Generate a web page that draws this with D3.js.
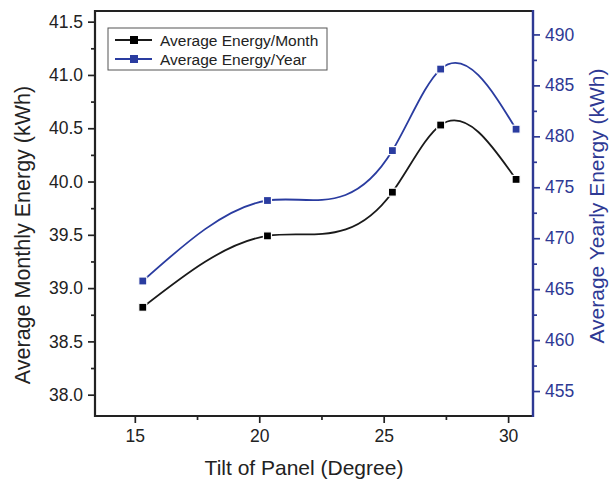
<!DOCTYPE html>
<html>
<head>
<meta charset="utf-8">
<script src="https://cdn.jsdelivr.net/npm/d3@7"></script>
<style>
  body { margin: 0; background: #fff; }
  text { font-family: Arial, "Liberation Sans", sans-serif; }
</style>
</head>
<body>
<div id="chart"></div>
<script>
// data
var tilt = [15.32, 20.33, 25.35, 27.29, 30.32];
var monthly = [38.82, 39.49, 39.90, 40.53, 40.02];
var yearly = [465.8, 473.7, 478.6, 486.6, 480.7];
var xTicks = [15, 20, 25, 30];
var leftTicks = [38.0, 38.5, 39.0, 39.5, 40.0, 40.5, 41.0, 41.5];
var rightTicks = [455, 460, 465, 470, 475, 480, 485, 490];
var seriesNames = ["Average Energy/Month", "Average Energy/Year"];

var W = 610, H = 482;
var margin = {top: 11, right: 77, bottom: 66, left: 95},
    width = W - margin.left - margin.right,
    height = H - margin.top - margin.bottom;

var blue = "#2a3ca0";
var axisBlue = "#2e3994";

// natural cubic spline y(x), drawn as bezier pieces (like Origin's spline connect)
function curveSplineX(context) {
  var pts;
  return {
    areaStart: function() {}, areaEnd: function() {},
    lineStart: function() { pts = []; },
    point: function(px, py) { pts.push([+px, +py]); },
    lineEnd: function() {
      var n = pts.length;
      if (!n) return;
      context.moveTo(pts[0][0], pts[0][1]);
      if (n < 3) { for (var k = 1; k < n; k++) context.lineTo(pts[k][0], pts[k][1]); return; }
      var h = [], a = [], b = [], c = [], r = [], M = new Array(n).fill(0);
      for (var i = 0; i < n - 1; i++) h[i] = pts[i + 1][0] - pts[i][0];
      // tridiagonal system for second derivatives M1..M(n-2)
      for (i = 1; i < n - 1; i++) {
        a[i] = h[i - 1]; b[i] = 2 * (h[i - 1] + h[i]); c[i] = h[i];
        r[i] = 6 * ((pts[i + 1][1] - pts[i][1]) / h[i] - (pts[i][1] - pts[i - 1][1]) / h[i - 1]);
      }
      for (i = 2; i < n - 1; i++) {
        var w = a[i] / b[i - 1];
        b[i] -= w * c[i - 1]; r[i] -= w * r[i - 1];
      }
      M[n - 2] = r[n - 2] / b[n - 2];
      for (i = n - 3; i >= 1; i--) M[i] = (r[i] - c[i] * M[i + 1]) / b[i];
      for (i = 0; i < n - 1; i++) {
        var x0 = pts[i][0], y0 = pts[i][1], x1 = pts[i + 1][0], y1 = pts[i + 1][1], hh = h[i];
        var s = (y1 - y0) / hh;
        var m0 = s - hh * (2 * M[i] + M[i + 1]) / 6;
        var m1 = s + hh * (M[i] + 2 * M[i + 1]) / 6;
        context.bezierCurveTo(x0 + hh / 3, y0 + m0 * hh / 3, x1 - hh / 3, y1 - m1 * hh / 3, x1, y1);
      }
    }
  };
}

var svg = d3.select("#chart").append("svg")
    .attr("width", W)
    .attr("height", H)
  .append("g")
    .attr("transform", "translate(" + margin.left + "," + margin.top + ")");

var x = d3.scaleLinear().domain([13.4, 31]).range([0, width]);
var yL = d3.scaleLinear().domain([37.8, 41.6]).range([height, 0]);
var yR = d3.scaleLinear().domain([452.55, 492.3]).range([height, 0]);

// minor ticks
var xMinor = [17.5, 22.5, 27.5];
var lMinor = d3.range(37.75, 41.6, 0.5).filter(function(d){ return d > 37.8; });
var rMinor = d3.range(452.5, 492.3, 5).filter(function(d){ return d > 452.6; });

function styleAxis(g, color) {
  g.select(".domain").remove();
  g.selectAll("line").attr("stroke", color).attr("stroke-width", 1.7);
  g.selectAll("text").attr("fill", color).style("font-size", "17.5px");
}

// bottom axis
svg.append("g")
  .attr("transform", "translate(0," + height + ")")
  .call(d3.axisBottom(x).tickValues(xTicks).tickSize(7).tickPadding(7).tickFormat(d3.format("d")))
  .call(styleAxis, "#222");
svg.append("g")
  .attr("transform", "translate(0," + height + ")")
  .call(d3.axisBottom(x).tickValues(xMinor).tickSize(4).tickFormat(""))
  .call(styleAxis, "#222");

// left axis
svg.append("g")
  .call(d3.axisLeft(yL).tickValues(leftTicks).tickSize(7).tickPadding(5).tickFormat(d3.format(".1f")))
  .call(styleAxis, "#222");
svg.append("g")
  .call(d3.axisLeft(yL).tickValues(lMinor).tickSize(4).tickFormat(""))
  .call(styleAxis, "#222");

// right axis
svg.append("g")
  .attr("transform", "translate(" + width + ",0)")
  .call(d3.axisRight(yR).tickValues(rightTicks).tickSize(7).tickPadding(5).tickFormat(d3.format("d")))
  .call(styleAxis, axisBlue);
svg.append("g")
  .attr("transform", "translate(" + width + ",0)")
  .call(d3.axisRight(yR).tickValues(rMinor).tickSize(4).tickFormat(""))
  .call(styleAxis, axisBlue);

// frame
svg.append("path")
  .attr("d", "M" + width + ",0H0V" + height + "H" + width)
  .attr("fill", "none").attr("stroke", "#222").attr("stroke-width", 2.2);
svg.append("line")
  .attr("x1", width).attr("x2", width).attr("y1", -1).attr("y2", height + 1)
  .attr("stroke", axisBlue).attr("stroke-width", 2.4);

// lines
var lineM = d3.line().curve(curveSplineX)
  .x(function(d, i){ return x(tilt[i]); })
  .y(function(d){ return yL(d); });
var lineY = d3.line().curve(curveSplineX)
  .x(function(d, i){ return x(tilt[i]); })
  .y(function(d){ return yR(d); });

svg.append("path").datum(monthly)
  .attr("d", lineM).attr("fill", "none").attr("stroke", "#1a1a1a").attr("stroke-width", 1.8);
svg.append("path").datum(yearly)
  .attr("d", lineY).attr("fill", "none").attr("stroke", blue).attr("stroke-width", 1.8);

var ms = 8;
svg.selectAll(".mM").data(monthly).enter().append("rect")
  .attr("x", function(d, i){ return x(tilt[i]) - ms / 2; })
  .attr("y", function(d){ return yL(d) - ms / 2; })
  .attr("width", ms).attr("height", ms)
  .attr("fill", "#000").attr("stroke", "#fff").attr("stroke-width", 1.2);
svg.selectAll(".mY").data(yearly).enter().append("rect")
  .attr("x", function(d, i){ return x(tilt[i]) - ms / 2; })
  .attr("y", function(d){ return yR(d) - ms / 2; })
  .attr("width", ms).attr("height", ms)
  .attr("fill", blue).attr("stroke", "#fff").attr("stroke-width", 1.2);

// legend
var lg = svg.append("g").attr("transform", "translate(13,17)");
lg.append("rect").attr("width", 219).attr("height", 42)
  .attr("fill", "#fff").attr("stroke", "#555").attr("stroke-width", 1);
[["#1a1a1a", "#000"], [blue, blue]].forEach(function(c, i) {
  var yy = 12 + i * 19;
  lg.append("line").attr("x1", 7).attr("x2", 44).attr("y1", yy).attr("y2", yy)
    .attr("stroke", c[0]).attr("stroke-width", 1.8);
  lg.append("rect").attr("x", 22).attr("y", yy - 4).attr("width", 8).attr("height", 8)
    .attr("fill", c[1]);
  lg.append("text").attr("x", 52).attr("y", yy + 5.5)
    .style("font-size", "15.5px").attr("fill", "#222").text(seriesNames[i]);
});

// axis titles
svg.append("text")
  .attr("transform", "translate(" + (width / 2 - 10) + "," + (height + 59) + ")")
  .attr("text-anchor", "middle").style("font-size", "21px").attr("fill", "#222")
  .text("Tilt of Panel (Degree)");

svg.append("text")
  .attr("transform", "translate(-65," + (height / 2 + 21.5) + ") rotate(-90)")
  .attr("text-anchor", "middle").style("font-size", "21.5px").attr("fill", "#222")
  .text("Average Monthly Energy (kWh)");

svg.append("text")
  .attr("transform", "translate(" + (width + 71) + "," + (height / 2 - 7.5) + ") rotate(-90)")
  .attr("text-anchor", "middle").style("font-size", "21px").attr("fill", axisBlue)
  .text("Average Yearly Energy (kWh)");
</script>
</body>
</html>
